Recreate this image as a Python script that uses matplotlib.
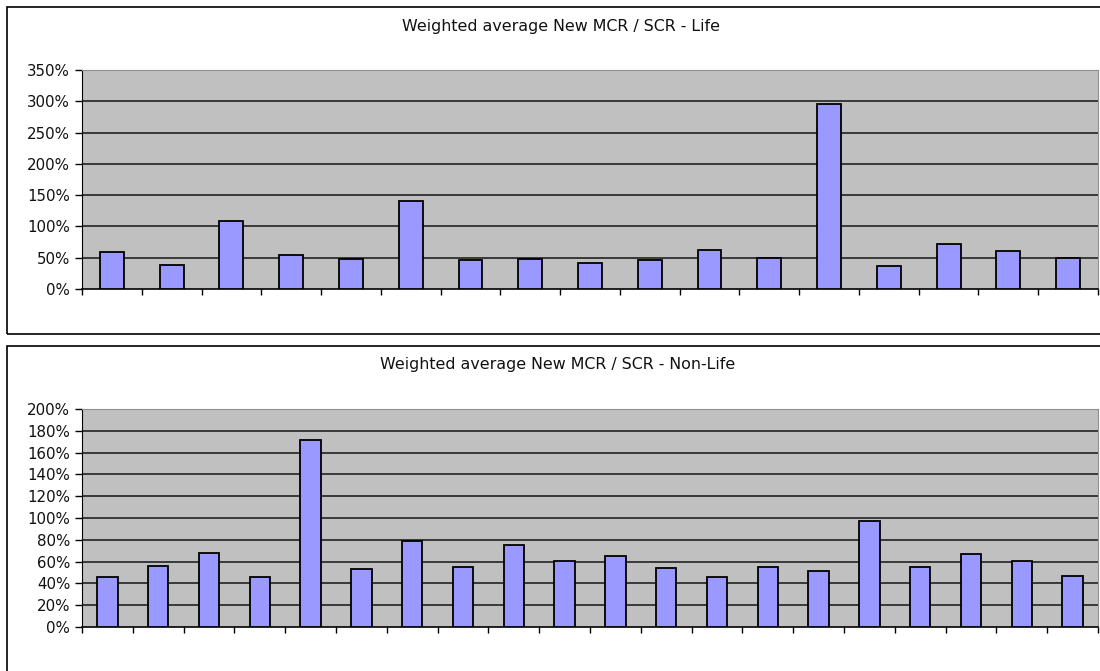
import matplotlib.pyplot as plt
from matplotlib.patches import Rectangle
from matplotlib.ticker import FuncFormatter, FixedLocator

# --- Data ---
life_values = [59, 38, 109, 54, 48, 140, 47, 48, 42, 46, 63, 50, 296, 37, 72, 61, 50]
nonlife_values = [46, 56, 68, 46, 172, 53, 79, 55, 75, 61, 65, 54, 46, 55, 51, 97, 55, 67, 61, 47]
life_title = "Weighted average New MCR / SCR - Life"
nonlife_title = "Weighted average New MCR / SCR - Non-Life"
life_yticks = [0, 50, 100, 150, 200, 250, 300, 350]
nonlife_yticks = [0, 20, 40, 60, 80, 100, 120, 140, 160, 180, 200]

W, H = 1100, 671
plt.rcParams['font.family'] = ['DejaVu Sans']

fig = plt.figure(figsize=(W / 100, H / 100), dpi=100)


def px_box(x0, y0, x1, y1):
    # pixel box (top-left origin) -> figure fraction [left, bottom, width, height]
    return [x0 / W, 1 - y1 / H, (x1 - x0) / W, (y1 - y0) / H]


def draw_panel(box, ax_box, values, yticks, title, title_xy):
    # outer chart frame
    l, b, w, h = px_box(*box)
    fig.patches.append(Rectangle((l, b), w, h, transform=fig.transFigure,
                                 fill=False, edgecolor="black", linewidth=1.2))
    fig.text(title_xy[0] / W, 1 - title_xy[1] / H, title, ha="center", va="center",
             fontsize=11.4, color="#111111")

    ax = fig.add_axes(px_box(*ax_box))
    ax.set_facecolor("#C0C0C0")
    n = len(values)
    ax.bar(range(n), values, width=0.4, color="#9999FF", edgecolor="black",
           linewidth=1.3, zorder=3)
    ax.set_xlim(-0.5, n - 0.5)
    ax.set_ylim(yticks[0], yticks[-1])
    ax.set_yticks(yticks)
    ax.yaxis.set_major_formatter(FuncFormatter(lambda v, p: f"{v:.0f}%"))
    ax.xaxis.set_major_locator(FixedLocator([i - 0.5 for i in range(n + 1)]))
    ax.set_xticklabels([])
    for y in yticks[1:-1]:
        ax.axhline(y, color="#222222", linewidth=1.2, zorder=1)
    ax.tick_params(axis="y", direction="out", length=5, width=1, labelsize=10.8,
                   pad=3.5, labelcolor="#111111")
    ax.tick_params(axis="x", direction="out", length=4, width=1)
    ax.spines["left"].set_color("black")
    ax.spines["bottom"].set_color("black")
    ax.spines["bottom"].set_linewidth(1.2)
    ax.spines["top"].set_color("#909090")
    ax.spines["right"].set_color("#909090")
    return ax


draw_panel((7, 7, 1106, 334), (82, 70, 1098, 289), life_values, life_yticks,
           life_title, (561, 26))
draw_panel((7, 346, 1106, 690), (82, 409, 1098, 627), nonlife_values, nonlife_yticks,
           nonlife_title, (558, 365))

fig.savefig("out.png", dpi=100, facecolor="white")
